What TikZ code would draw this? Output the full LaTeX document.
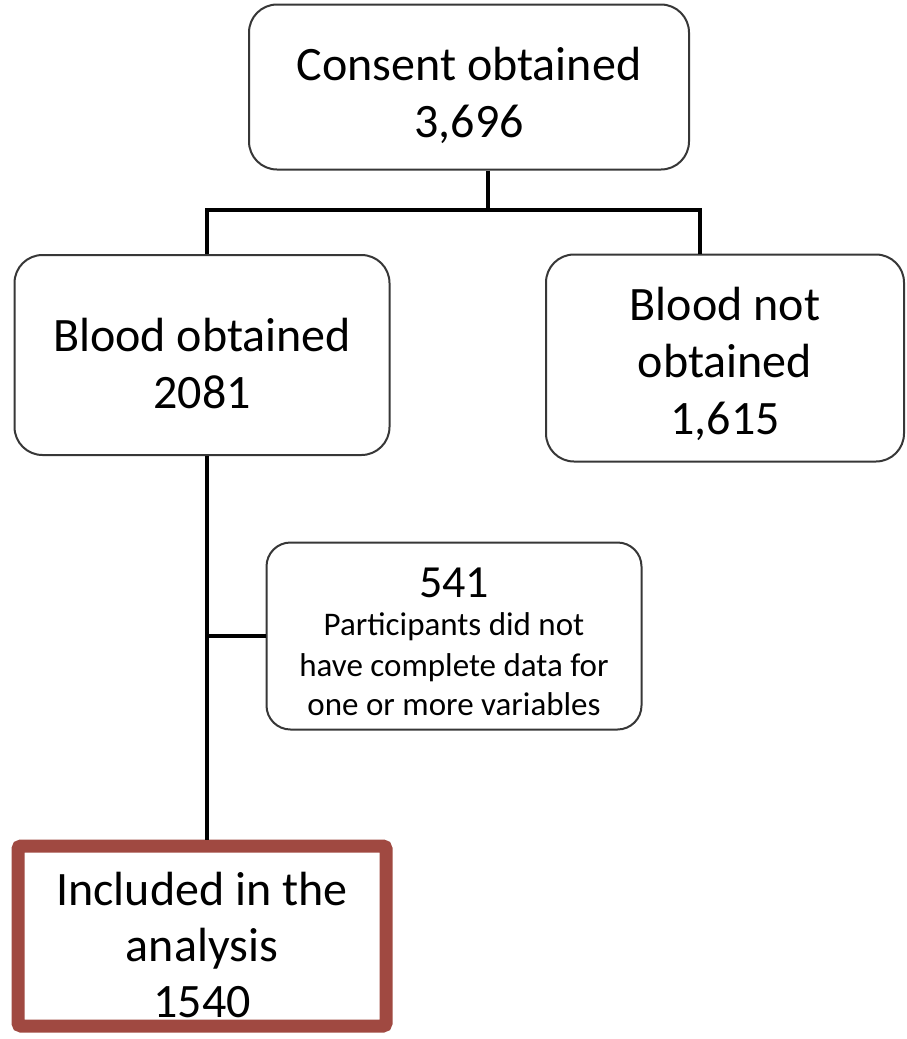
\documentclass[tikz,border=0pt]{standalone}
\usepackage{fontspec}
\setmainfont{Carlito}
\usetikzlibrary{calc}

\definecolor{boxred}{RGB}{160,73,65}
\definecolor{boxline}{RGB}{55,55,55}

\tikzset{
  flowbox/.style={draw=boxline,line width=2pt,rounded corners=28pt,fill=white,align=center,
    inner sep=0pt,font=\fontsize{48}{57}\selectfont},
  finalbox/.style={draw=boxred,line width=13pt,rounded corners=3pt,fill=white,align=center,
    inner sep=0pt,font=\fontsize{48}{56}\selectfont},
  link/.style={line width=4pt}
}
\newcommand{\smallline}[1]{{\fontsize{33}{41}\selectfont #1}}
\newcommand{\lift}[1]{\rule{0pt}{#1}}

\begin{document}
\begin{tikzpicture}[x=1pt,y=-1pt]
\useasboundingbox (0,0) rectangle (906,1039);
\node (consent) [flowbox,minimum width=440pt,minimum height=165pt] at (469,87) {\lift{50pt}Consent obtained\\3,696};
\node (blood) [flowbox,minimum width=375pt,minimum height=200pt] at (202,355) {\lift{50pt}Blood obtained\\2081};
\node (noblood) [flowbox,minimum width=358pt,minimum height=207pt] at (725,358) {\lift{46pt}Blood not\\obtained\\1,615};
\node (missing) [flowbox,rounded corners=24pt,minimum width=375pt,minimum height=187pt,
  font=\fontsize{46}{57}\selectfont] at (454,636)
  {\lift{41pt}541\\[-19pt]\smallline{Participants did not}\\[-16pt]
   \smallline{have complete data for}\\[-18pt]
   \smallline{one or more variables}};
\node (incl) [finalbox,minimum width=368pt,minimum height=180pt] at (202,936) {\lift{52pt}Included in the\\analysis\\1540};
\coordinate (split) at (488,210);
\coordinate (left) at (207,210);
\coordinate (right) at (700,210);
\draw [link] (consent.south -| split) -- (split);
\draw [link] (left |- blood.north) -- (left) -- (right) -- (right |- noblood.north);
\draw [link] (left |- blood.south) -- (left |- incl.north);
\draw [link] (left |- missing.west) -- (missing.west);
\end{tikzpicture}
\end{document}
